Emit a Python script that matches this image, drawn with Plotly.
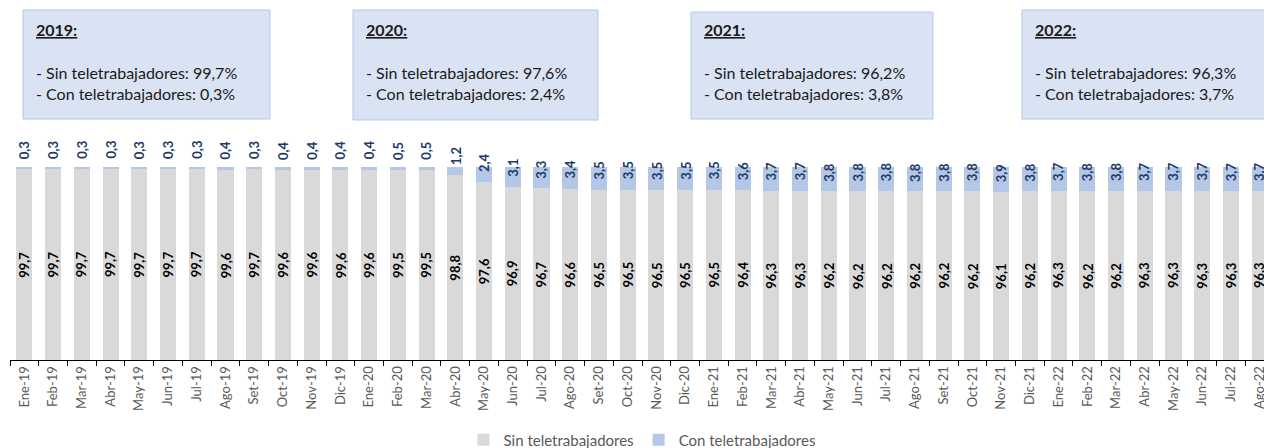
import plotly.graph_objects as go

categories = [
    "Ene-19", "Feb-19", "Mar-19", "Abr-19", "May-19", "Jun-19", "Jul-19", "Ago-19", "Set-19", "Oct-19", "Nov-19", "Dic-19",
    "Ene-20", "Feb-20", "Mar-20", "Abr-20", "May-20", "Jun-20", "Jul-20", "Ago-20", "Set-20", "Oct-20", "Nov-20", "Dic-20",
    "Ene-21", "Feb-21", "Mar-21", "Abr-21", "May-21", "Jun-21", "Jul-21", "Ago-21", "Set-21", "Oct-21", "Nov-21", "Dic-21",
    "Ene-22", "Feb-22", "Mar-22", "Abr-22", "May-22", "Jun-22", "Jul-22", "Ago-22",
]
sin_tele = [
    99.7, 99.7, 99.7, 99.7, 99.7, 99.7, 99.7, 99.6, 99.7, 99.6, 99.6, 99.6,
    99.6, 99.5, 99.5, 98.8, 97.6, 96.9, 96.7, 96.6, 96.5, 96.5, 96.5, 96.5,
    96.5, 96.4, 96.3, 96.3, 96.2, 96.2, 96.2, 96.2, 96.2, 96.2, 96.1, 96.2,
    96.3, 96.2, 96.2, 96.3, 96.3, 96.3, 96.3, 96.3,
]
con_tele = [
    0.3, 0.3, 0.3, 0.3, 0.3, 0.3, 0.3, 0.4, 0.3, 0.4, 0.4, 0.4,
    0.4, 0.5, 0.5, 1.2, 2.4, 3.1, 3.3, 3.4, 3.5, 3.5, 3.5, 3.5,
    3.5, 3.6, 3.7, 3.7, 3.8, 3.8, 3.8, 3.8, 3.8, 3.8, 3.9, 3.8,
    3.7, 3.8, 3.8, 3.7, 3.7, 3.7, 3.7, 3.7,
]
box_years = ["2019", "2020", "2021", "2022"]
box_sin = [99.7, 97.6, 96.2, 96.3]
box_con = [0.3, 2.4, 3.8, 3.7]

Y_MIN, Y_MAX = 70, 100


def fmt(v):
    return f"{v:.1f}".replace(".", ",")


FONT = "Lato, 'Open Sans', sans-serif"
W, H = 1264, 448
L, R, T, B = 10, 0, 167, 88
PW = W - L - R
PH = H - T - B


def px_x(px):
    return (px - L) / PW


def px_y(py):
    return (H - B - py) / PH


fig = go.Figure()
fig.add_trace(go.Bar(
    x=categories, y=sin_tele, name="Sin teletrabajadores",
    marker=dict(color="#D9D9D9", line=dict(width=0)),
    width=0.56, textposition="none",
))
fig.add_trace(go.Bar(
    x=categories, y=con_tele, name="Con teletrabajadores",
    marker=dict(color="#B4C7E7", line=dict(width=0)),
    width=0.56, textposition="none",
))

# labels for the "Sin" segment, centred on its visible part
for c, v in zip(categories, sin_tele):
    fig.add_annotation(
        x=c, y=(Y_MIN + v) / 2, xref="x", yref="y", text=fmt(v), showarrow=False,
        textangle=-90, yanchor="middle",
        font=dict(family=FONT, size=13, color="#000000", weight="bold"),
    )

# labels for the "Con" segment, anchored at the segment base
for c, s, v in zip(categories, sin_tele, con_tele):
    fig.add_annotation(
        x=c, y=s, xref="x", yref="y", text=fmt(v), showarrow=False,
        textangle=-90, yanchor="bottom", yshift=8,
        font=dict(family=FONT, size=13, color="#203864", weight="bold"),
    )

# year summary boxes
boxes_px = [(23, 270, 10, 119), (353, 598, 10, 120), (691, 933, 12, 119), (1022, 1280, 10, 119)]
for (x0, x1, y0, y1), yr, s, c in zip(boxes_px, box_years, box_sin, box_con):
    fig.add_shape(type="rect", xref="paper", yref="paper",
                  x0=px_x(x0), x1=px_x(x1), y0=px_y(y1), y1=px_y(y0),
                  fillcolor="#DAE3F3", line=dict(color="#B4C7E7", width=1), layer="above")
    lines = [(f"<b><u>{yr}:</u></b>", 30),
             (f"- Sin teletrabajadores: {fmt(s)}%", 72),
             (f"- Con teletrabajadores: {fmt(c)}%", 93)]
    for txt, ypx in lines:
        fig.add_annotation(x=px_x(x0 + 11), y=px_y(ypx), xref="paper", yref="paper",
                           text=txt, showarrow=False, xanchor="left", yanchor="middle",
                           font=dict(family=FONT, size=16, color="#1a1a1a"))

fig.update_layout(
    width=W, height=H, barmode="stack",
    margin=dict(l=L, r=R, t=T, b=B, pad=0, autoexpand=False),
    paper_bgcolor="white", plot_bgcolor="white",
    font=dict(family=FONT, color="#595959"),
    showlegend=True,
    legend=dict(orientation="h", x=0.504, xanchor="center", y=px_y(440), yanchor="middle",
                font=dict(family=FONT, size=15, color="#595959"), itemwidth=30,
                traceorder="normal"),
    xaxis=dict(type="category", range=[-0.5, 43.15], tickson="boundaries",
               ticks="outside", ticklen=5, tickcolor="#000000", tickwidth=1,
               showline=True, linecolor="#000000", linewidth=1, automargin=False,
               tickangle=-90, tickfont=dict(family=FONT, size=13, color="#595959"),
               showgrid=False, fixedrange=True),
    yaxis=dict(range=[Y_MIN, Y_MAX], visible=False, showgrid=False, fixedrange=True, automargin=False),
)

fig.write_html("out.html", config={"displayModeBar": False},
               post_script="document.body.style.margin='0';document.body.style.overflow='hidden';")
